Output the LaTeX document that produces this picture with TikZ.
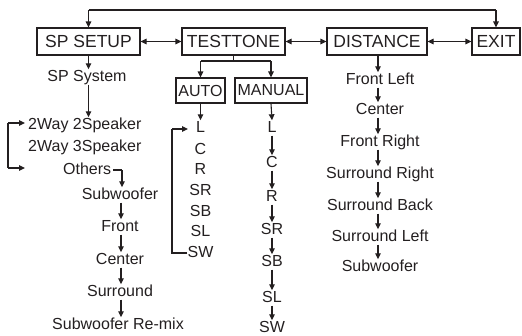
\documentclass[tikz,border=0pt]{standalone}
\usepackage{fontspec}
\setmainfont{Liberation Sans}
\usetikzlibrary{arrows.meta}
\definecolor{ink}{RGB}{35,31,32}
\newcommand{\boxfnt}{\fontsize{17.5}{20}\selectfont}
\newcommand{\lblfnt}{\fontsize{16}{18}\selectfont}
\begin{document}
\begin{tikzpicture}[x=1pt,y=-1pt, color=ink,
  box/.style={draw, line width=1.1pt, minimum height=27pt, inner sep=0pt, font=\boxfnt},
  sbox/.style={draw, line width=1.1pt, minimum height=25pt, inner sep=0pt, font=\lblfnt},
  lbl/.style={inner sep=0pt, font=\lblfnt, text height=11.5pt, text depth=3.5pt},
  arr/.style={line width=1.1pt, -{Triangle[length=6pt,width=5.5pt]}},
  darr/.style={line width=1.1pt, {Triangle[length=6pt,width=5.5pt]}-{Triangle[length=6pt,width=5.5pt]}},
  ln/.style={line width=1.1pt}]
\useasboundingbox (0,0) rectangle (522,335);
% main boxes
\node[box, minimum width=103pt] (sp) at (88.5,41.5) {SP SETUP};
\node[box, minimum width=103pt] (tt) at (233.5,41.5) {TESTTONE};
\node[box, minimum width=100pt] (di) at (377,41.5) {DISTANCE};
\node[box, minimum width=48pt] (ex) at (496,41.5) {EXIT};
\draw[darr] (sp) -- (tt);
\draw[darr] (tt) -- (di);
\draw[darr] (di) -- (ex);
\coordinate (tl) at (88.5,10);
\coordinate (tr) at (496,10);
\draw[ln] (tl) -- (tr);
\draw[arr] (tl) -- (sp.north);
\draw[arr] (tr) -- (ex.north);
% SP SETUP column
\node[lbl] (sps) at (87,77) {SP System};
\node[lbl, anchor=west] (w2) at (28,125) {2Way 2Speaker};
\node[lbl, anchor=west] (w3) at (28,147) {2Way 3Speaker};
\node[lbl, anchor=west] (ot) at (63,170) {Others};
\node[lbl] (sub) at (120,195) {Subwoofer};
\node[lbl] (fr) at (120,227) {Front};
\node[lbl] (ce) at (120,260) {Center};
\node[lbl] (su) at (120,292) {Surround};
\node[lbl] (rm) at (118,325) {Subwoofer Re-mix};
\draw[arr] (sp.south) -- (sps.north -| sp.south);
\draw[arr] (sps.south -| sp.south) -- (sp.south |- w2.north);
\coordinate (bt) at (8,123);
\coordinate (bb) at (8,168);
\coordinate (be) at (25,168);
\draw[arr] (bt) -- (25,123);
\draw[ln] (bt) -- (bb);
\draw[arr] (bb) -- (be);
\coordinate (oc) at (122,170);
\draw[ln] (ot.east |- oc) ++(2,0) -- (oc);
\draw[arr] (oc) -- (oc |- sub.north);
\draw[arr] (sub.south -| 121,0) -- (fr.north -| 121,0);
\draw[arr] (fr.south -| 121,0) -- (ce.north -| 121,0);
\draw[arr] (ce.south -| 121,0) -- (su.north -| 121,0);
\draw[arr] (su.south -| 121,0) -- (rm.north -| 121,0);
% TESTTONE branches
\node[sbox, minimum width=49pt] (au) at (200.5,90.5) {AUTO};
\node[sbox, minimum width=72pt] (ma) at (271,90.5) {MANUAL};
\coordinate (tj) at (233.5,61);
\draw[ln] (tt.south) -- (tj);
\draw[ln] (au.north |- tj) -- (ma.north |- tj);
\draw[arr] (au.north |- tj) -- (au.north);
\draw[arr] (ma.north |- tj) -- (ma.north);
% AUTO column
\node[lbl] (al) at (200.5,128) {L};
\node[lbl] (ac) at (200.5,150) {C};
\node[lbl] (ar) at (200.5,170) {R};
\node[lbl] (asr) at (200.5,191) {SR};
\node[lbl] (asb) at (200.5,212) {SB};
\node[lbl] (asl) at (200.5,232) {SL};
\node[lbl] (asw) at (200.5,253) {SW};
\draw[arr] (au.south) -- (al.north);
\coordinate (lt) at (172,129);
\coordinate (lb) at (172,253);
\draw[ln] (asw.west |- lb) -- (lb) -- (lt);
\draw[arr] (lt) -- (188,129);
% MANUAL column
\node[lbl] (ml) at (272,128) {L};
\node[lbl] (mc) at (272,163) {C};
\node[lbl] (mr) at (272,197) {R};
\node[lbl] (msr) at (272,230) {SR};
\node[lbl] (msb) at (272,262) {SB};
\node[lbl] (msl) at (272,298) {SL};
\node[lbl] (msw) at (272,328) {SW};
\draw[arr] (ma.south) -- (ml.north);
\draw[arr] (ml.south) -- (mc.north);
\draw[arr] (mc.south) -- (mr.north);
\draw[arr] (mr.south) -- (msr.north);
\draw[arr] (msr.south) -- (msb.north);
\draw[arr] (msb.south) -- (msl.north);
\draw[arr] (msl.south) -- (msw.north);
% DISTANCE column
\node[lbl] (dfl) at (380,80) {Front Left};
\node[lbl] (dc) at (380,110) {Center};
\node[lbl] (dfr) at (380,142) {Front Right};
\node[lbl] (dsr) at (380,174) {Surround Right};
\node[lbl] (dsb) at (380,206) {Surround Back};
\node[lbl] (dsl) at (380,237) {Surround Left};
\node[lbl] (dsw) at (380,267) {Subwoofer};
\draw[arr] (di.south -| 378,0) -- (dfl.north -| 378,0);
\draw[arr] (dfl.south -| 378,0) -- (dc.north -| 378,0);
\draw[arr] (dc.south -| 378,0) -- (dfr.north -| 378,0);
\draw[arr] (dfr.south -| 378,0) -- (dsr.north -| 378,0);
\draw[arr] (dsr.south -| 378,0) -- (dsb.north -| 378,0);
\draw[arr] (dsb.south -| 378,0) -- (dsl.north -| 378,0);
\draw[arr] (dsl.south -| 378,0) -- (dsw.north -| 378,0);
\end{tikzpicture}
\end{document}
